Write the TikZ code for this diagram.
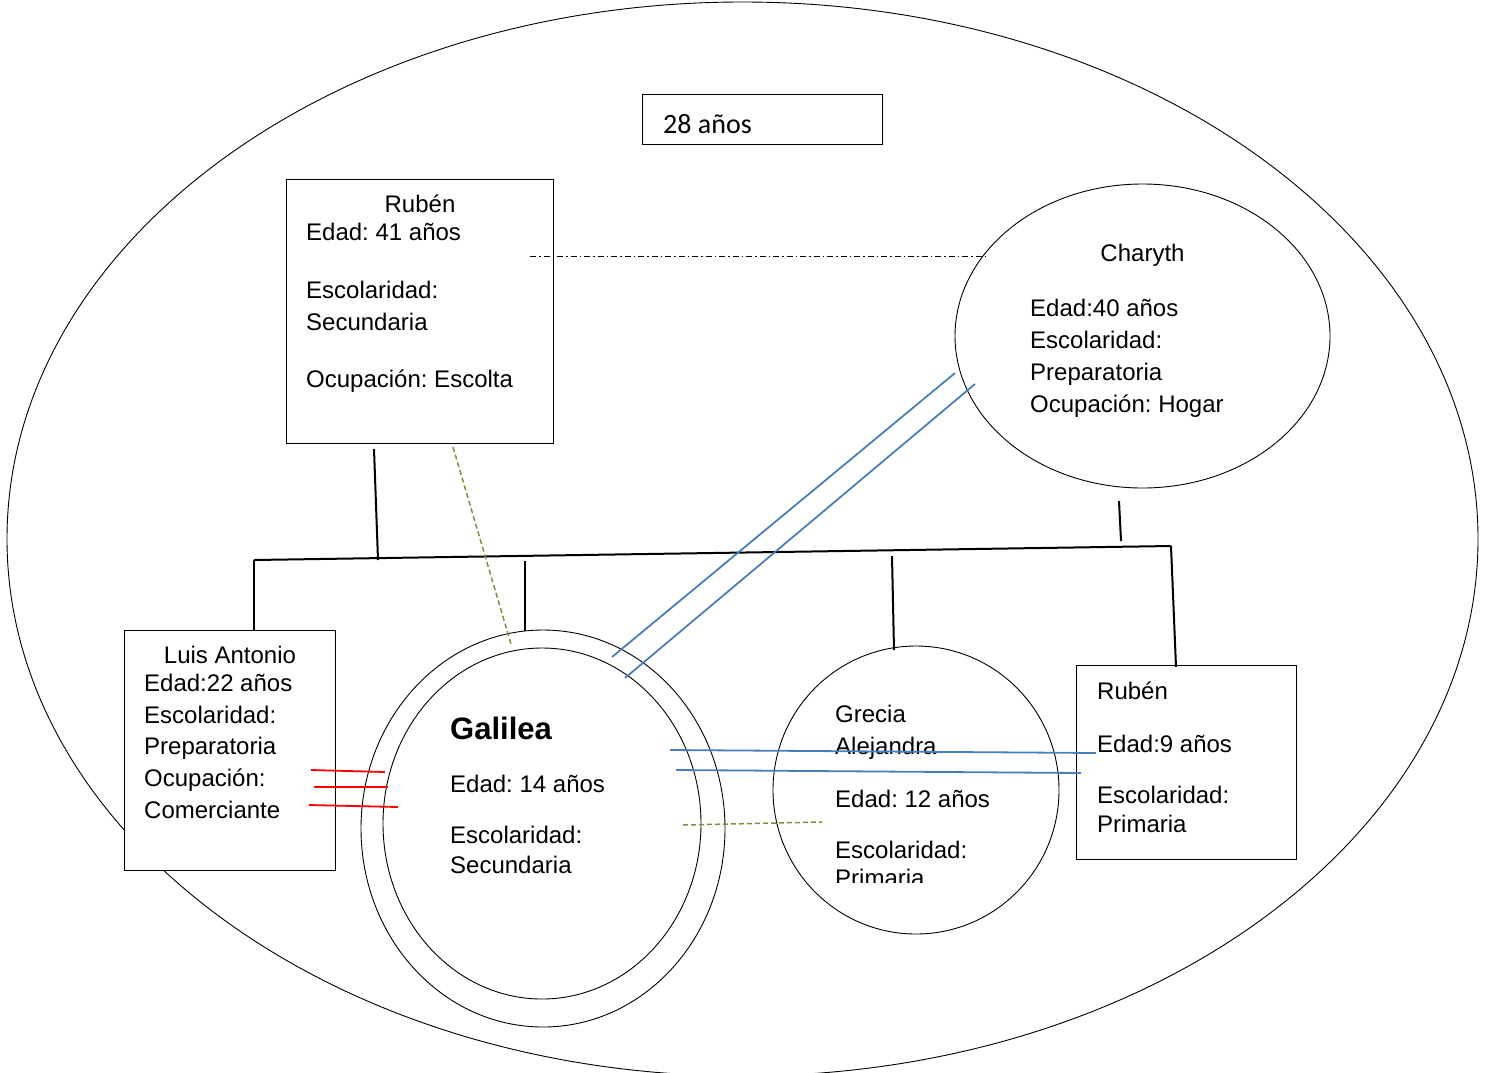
\documentclass[tikz,border=0pt]{standalone}
\usepackage{fontspec}
\setmainfont{Liberation Sans}
\newfontfamily\calibfont{Carlito}
\usetikzlibrary{shapes.geometric}
\definecolor{linkblue}{HTML}{4A7EBB}
\definecolor{linkgreen}{HTML}{77933C}
\definecolor{linkred}{HTML}{FF0000}
\frenchspacing
\begin{document}
\frenchspacing
\begin{tikzpicture}[x=1pt,y=-1pt,
  shp/.style={draw, line width=0.9pt, fill=white, inner sep=0pt},
  boxshape/.style={shp, rectangle},
  ovalshape/.style={shp, ellipse},
  txt/.style={anchor=base west, inner sep=0pt, font=\frenchspacing\fontsize{24}{28}\selectfont},
  ctxt/.style={anchor=base, inner sep=0pt, font=\frenchspacing\fontsize{24}{28}\selectfont},
  link/.style={line width=2pt},
  bluelink/.style={draw=linkblue, line width=1.8pt},
  greenlink/.style={draw=linkgreen, line width=1.5pt, dash pattern=on 5pt off 3pt},
  redlink/.style={draw=linkred, line width=1.8pt},
  marriage/.style={line width=0.9pt, dash pattern=on 6pt off 3pt on 1.5pt off 3pt}]
\useasboundingbox (0,0) rectangle (1488,1072);
\begin{scope}
\clip (0,0) rectangle (1488,1072);
\node[ovalshape, fill=none, minimum width=1471, minimum height=1074] (family) at (742.5,539) {};
\end{scope}

% shapes
\node[boxshape, minimum width=240, minimum height=50] (yearsbox) at (762,119) {};
\node[boxshape, minimum width=267, minimum height=264] (father) at (419.5,311) {};
\node[ovalshape, minimum width=375, minimum height=304] (mother) at (1142.5,336) {};
\node[boxshape, minimum width=211, minimum height=240] (luis) at (229.5,750) {};
\node[ovalshape, minimum width=364, minimum height=397] (galileaout) at (543,828.5) {};
\node[ovalshape, minimum width=318, minimum height=351] (galileain) at (542,823.5) {};
\node[ovalshape, minimum width=286, minimum height=288] (grecia) at (916,790) {};
\node[boxshape, minimum width=220, minimum height=194] (rubenjr) at (1186,762) {};

% texts
\node[anchor=base west, inner sep=0pt, font=\calibfont\fontsize{28}{32}\selectfont] (yearstxt) at (663,133) {28 años};

\node[ctxt] (f1) at (420,212) {Rubén};
\node[txt] (f2) at (306,240) {Edad: 41 años};
\node[txt] (f3) at (306,298) {Escolaridad:};
\node[txt] (f4) at (306,330) {Secundaria};
\node[txt] (f5) at (306,387) {Ocupación: Escolta};

\node[ctxt] (m1) at (1142.5,261) {Charyth};
\node[txt] (m2) at (1030,316) {Edad:40 años};
\node[txt] (m3) at (1030,348) {Escolaridad:};
\node[txt] (m4) at (1030,380) {Preparatoria};
\node[txt] (m5) at (1030,412) {Ocupación: Hogar};

\node[ctxt] (l1) at (230,663) {Luis Antonio};
\node[txt] (l2) at (144,691) {Edad:22 años};
\node[txt] (l3) at (144,723) {Escolaridad:};
\node[txt] (l4) at (144,754) {Preparatoria};
\node[txt] (l5) at (144,786) {Ocupación:};
\node[txt] (l6) at (144,818) {Comerciante};

\node[anchor=base west, inner sep=0pt, font=\bfseries\fontsize{31}{36}\selectfont] (g1) at (450,739) {Galilea};
\node[txt] (g2) at (450,792) {Edad: 14 años};
\node[txt] (g3) at (450,843) {Escolaridad:};
\node[txt] (g4) at (450,873) {Secundaria};

\node[txt] (a1) at (835,722) {Grecia};
\node[txt] (a2) at (835,754) {Alejandra};
\node[txt] (a3) at (835,807) {Edad: 12 años};
\node[txt] (a4) at (835,858) {Escolaridad:};
\begin{scope}
\clip (800,860) rectangle (1000,882);
\node[txt] (a5) at (835,886) {Primaria};
\end{scope}

\node[txt] (r1) at (1097,699) {Rubén};
\node[txt] (r2) at (1097,752) {Edad:9 años};
\node[txt] (r3) at (1097,803) {Escolaridad:};
\node[txt] (r4) at (1097,832) {Primaria};

% connector coordinates
\coordinate (fdown) at (374,449);
\coordinate (fjoin) at (378,560);
\coordinate (mdown) at (1119,501);
\coordinate (mjoin) at (1121,541);
\coordinate (barL) at (254,560);
\coordinate (barR) at (1171,546);
\coordinate (gjoin) at (525,561);
\coordinate (gtop) at (525,631);
\coordinate (ajoin) at (892,556);
\coordinate (atop) at (894,650);
\coordinate (rtop) at (1176,667);

% family tree lines
\draw[link] (fdown) -- (fjoin);
\draw[link] (mdown) -- (mjoin);
\draw[link] (barL) -- (barR);
\draw[link] (barL) -- (luis.north -| barL);
\draw[link] (gjoin) -- (gtop);
\draw[link] (ajoin) -- (atop);
\draw[link] (barR) -- (rtop);

% marriage line
\draw[marriage] (530,256) -- (985,256);

% relation lines
\draw[greenlink] (453,447) -- (511,644);
\draw[greenlink] (683,825) -- (822,822);
\draw[bluelink] (612,657) -- (955,373);
\draw[bluelink] (625,678) -- (975,384);
\draw[bluelink] (670,750) -- (1096,753);
\draw[bluelink] (676,770) -- (1081,773);
\draw[redlink] (311,770) -- (385,772);
\draw[redlink] (314,787) -- (388,787);
\draw[redlink] (309,805) -- (398,807);
\end{tikzpicture}
\end{document}
